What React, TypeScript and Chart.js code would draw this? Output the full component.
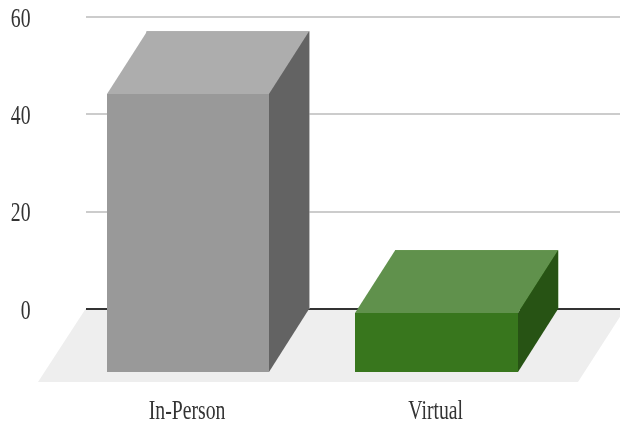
import React, { useEffect, useRef } from "react";
import { Chart, registerables } from "chart.js";

Chart.register(...registerables);

const categories = ["In-Person", "Virtual"];
const values = [57, 12];
const yTicks = [0, 20, 40, 60];
const frontColors = ["#999999", "#38761d"];
const topColors = ["#adadad", "#60914c"];
const sideColors = ["#636363", "#275314"];

const DX = 40;
const DY = 62.5;
const SQUEEZE = 0.73;
const LABEL_FONT = "27px 'Liberation Serif', serif";
const LABEL_COLOR = "#333333";

const poly = (ctx: CanvasRenderingContext2D, pts: number[][], color: string) => {
  ctx.fillStyle = color;
  ctx.beginPath();
  pts.forEach(([x, y], i) => (i ? ctx.lineTo(x, y) : ctx.moveTo(x, y)));
  ctx.closePath();
  ctx.fill();
};

const squeezedText = (
  ctx: CanvasRenderingContext2D,
  text: string,
  x: number,
  y: number,
  align: CanvasTextAlign
) => {
  ctx.save();
  ctx.translate(x, y);
  ctx.scale(SQUEEZE, 1);
  ctx.font = LABEL_FONT;
  ctx.fillStyle = LABEL_COLOR;
  ctx.textAlign = align;
  ctx.textBaseline = "middle";
  ctx.fillText(text, 0, 0);
  ctx.restore();
};

const solidPlugin = {
  id: "solid",
  beforeDatasetsDraw(chart: any) {
    const { ctx, scales } = chart;
    const y0 = scales.y.getPixelForValue(0);
    ctx.save();
    poly(ctx, [[85.5, y0], [38, y0 + 73], [578, y0 + 73], [625, y0]], "#eeeeee");
    yTicks.forEach((t) => {
      const y = Math.round(scales.y.getPixelForValue(t));
      ctx.strokeStyle = t === 0 ? "#333333" : "#cccccc";
      ctx.lineWidth = 2;
      ctx.beginPath();
      ctx.moveTo(86, y);
      ctx.lineTo(620, y);
      ctx.stroke();
    });
    ctx.restore();
  },
  afterDatasetsDraw(chart: any) {
    const { ctx, scales } = chart;
    const meta = chart.getDatasetMeta(0);
    ctx.save();
    meta.data.forEach((bar: any, i: number) => {
      const half = bar.width / 2;
      const l = Math.round(bar.x - half);
      const r = Math.round(bar.x + half);
      const t = bar.y;
      const b = bar.base;
      const fl = l - DX;
      const fr = r - DX;
      const ft = Math.round(t + DY);
      const fb = Math.round(b + DY);
      poly(ctx, [[fl, ft], [l, t], [r, t], [fr, ft]], topColors[i]);
      poly(ctx, [[fr, ft], [r, t], [r, b], [fr, fb]], sideColors[i]);
      poly(ctx, [[fl, ft], [fr, ft], [fr, fb], [fl, fb]], frontColors[i]);
    });
    scales.y.ticks.forEach((tick: any, i: number) => {
      squeezedText(ctx, String(tick.label), 30.5, scales.y.getPixelForTick(i) + 2.5, "right");
    });
    scales.x.ticks.forEach((tick: any, i: number) => {
      squeezedText(ctx, String(tick.label), scales.x.getPixelForTick(i) - DX - 1, 412, "center");
    });
    ctx.restore();
  },
};

export default function App() {
  const ref = useRef<HTMLCanvasElement>(null);
  useEffect(() => {
    document.body.style.margin = "0";
    const chart = new Chart(ref.current!, {
      type: "bar",
      data: {
        labels: categories,
        datasets: [
          {
            data: values,
            backgroundColor: frontColors,
            barThickness: 162.6,
            borderWidth: 0,
          },
        ],
      },
      plugins: [solidPlugin],
      options: {
        animation: false,
        responsive: false,
        devicePixelRatio: 1,
        layout: { padding: { top: 17, right: 19, left: 0, bottom: 0 } },
        plugins: { legend: { display: false }, tooltip: { enabled: false } },
        scales: {
          x: {
            grid: { display: false },
            border: { display: false },
            ticks: { display: false },
            afterFit: (s: any) => {
              s.height = 114;
            },
          },
          y: {
            min: 0,
            max: 60,
            grid: { display: false },
            border: { display: false },
            ticks: { display: false, stepSize: 20 },
            afterFit: (s: any) => {
              s.width = 103.7;
            },
          },
        },
      },
    } as any);
    return () => chart.destroy();
  }, []);
  return <canvas ref={ref} width={620} height={423} style={{ display: "block" }} />;
}
